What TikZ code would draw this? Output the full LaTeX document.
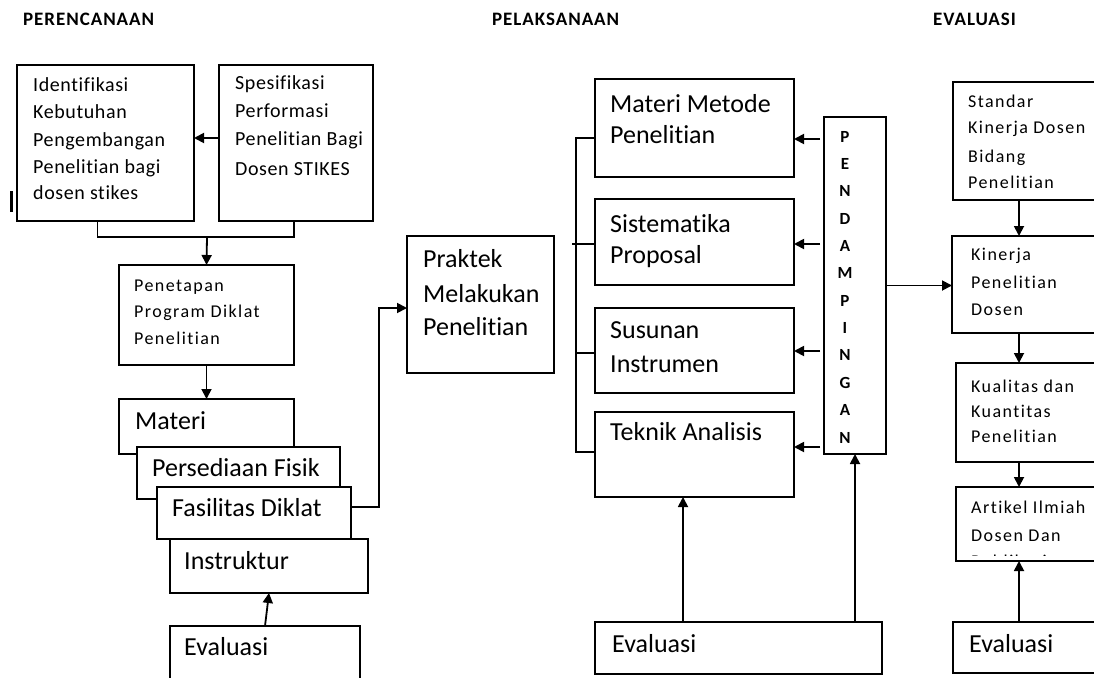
\documentclass[tikz,border=0pt]{standalone}
\usepackage{fontspec}
\usetikzlibrary{arrows.meta}
\newfontfamily\fa[LetterSpace=3,Ligatures=NoCommon]{Carlito}
\newfontfamily\fb[LetterSpace=8,Ligatures=NoCommon]{Carlito}
\newfontfamily\fc[Ligatures=NoCommon]{Carlito}
\newfontfamily\fh[LetterSpace=5,Ligatures=NoCommon]{Carlito}
\newcommand\sza{\fa\fontsize{20}{24}\selectfont}
\newcommand\szb{\fb\fontsize{18}{22}\selectfont}
\newcommand\szc{\fc\fontsize{26}{30}\selectfont}
\newcommand\szh{\fh\bfseries\fontsize{19}{22}\selectfont}
\newcommand\szp{\fc\bfseries\fontsize{17}{20}\selectfont}
\begin{document}
\begin{tikzpicture}[x=1pt,y=-1pt,
  box/.style={draw, line width=1.8pt, fill=white, inner sep=0pt, outer sep=0pt, anchor=north west},
  ln/.style={line width=1.8pt},
  arr/.style={line width=1.8pt, -{Triangle[length=10pt,width=10pt]}},
  ta/.style={anchor=base west, inner sep=0pt, font=\sza},
  tb/.style={anchor=base west, inner sep=0pt, font=\szb},
  tc/.style={anchor=base west, inner sep=0pt, font=\szc},
  th/.style={anchor=base west, inner sep=0pt, font=\szh},
  tp/.style={anchor=base, inner sep=0pt, font=\szp}]
\useasboundingbox (0,0) rectangle (1094,677);
\clip (0,0) rectangle (1094,677);
% headers
\node[th] (h1) at (23,26) {PERENCANAAN};
\node[th] (h2) at (492,26) {PELAKSANAAN};
\node[th] (h3) at (933,26) {EVALUASI};
% stray mark
\fill (9.5,191) rectangle (13,212);
% PERENCANAAN column
\node[box, minimum width=177pt, minimum height=156pt] (b1) at (17,65) {};
\node[box, minimum width=154pt, minimum height=156pt] (b2) at (219,65) {};
\node[ta] (b1a) at (33,91) {Identifikasi};
\node[ta] (b1b) at (33,118) {Kebutuhan};
\node[ta] (b1c) at (33,146) {Pengembangan};
\node[ta] (b1d) at (33,173) {Penelitian bagi};
\node[ta] (b1e) at (33,199) {dosen stikes};
\node[ta] (b2a) at (235,89) {Spesifikasi};
\node[ta] (b2b) at (235,117) {Performasi};
\node[ta] (b2c) at (235,145) {Penelitian Bagi};
\node[ta] (b2d) at (235,175) {Dosen STIKES};
\node[box, minimum width=175pt, minimum height=100pt] (pen) at (119,265) {};
\node[tb] (pena) at (134,291) {Penetapan};
\node[tb] (penb) at (134,317) {Program Diklat};
\node[tb] (penc) at (134,344) {Penelitian};
\node[box, minimum width=175pt, minimum height=55pt] (mat) at (119,399) {};
\node[tc] (matt) at (135,429) {Materi};
\node[box, minimum width=203pt, minimum height=52pt] (per) at (137,447) {};
\node[tc] (pert) at (152,476) {Persediaan Fisik};
\node[box, minimum width=194pt, minimum height=52pt] (fas) at (157,487) {};
\node[tc] (fast) at (172,516) {Fasilitas Diklat};
\node[box, minimum width=198pt, minimum height=54pt] (ins) at (170,539) {};
\node[tc] (inst) at (184,569) {Instruktur};
\node[box, minimum width=190pt, minimum height=80pt] (ev1) at (170,626) {};
\node[tc] (ev1t) at (184,655) {Evaluasi};
% connectors left
\coordinate (j1) at (207,237);
\draw[arr] ([yshift=5pt]b2.west) -- ([yshift=5pt]b1.east);
\draw[ln] ([xshift=-8pt]b1.south) |- (j1) -| ([xshift=-2pt]b2.south);
\draw[arr] (j1) -- (pen.north);
\draw[arr] (pen.south) -- (mat.north);
\draw[arr] (ev1.north) -- (ins.south);
% PELAKSANAAN
\node[box, minimum width=147pt, minimum height=137pt] (prak) at (407,236) {};
\node[tc] (praka) at (423,267) {Praktek};
\node[tc] (prakb) at (423,302) {Melakukan};
\node[tc] (prakc) at (423,335) {Penelitian};
\coordinate (k1) at (379,308);
\draw[arr] ([yshift=6pt]fas.east) -| (k1) -- (k1 -| prak.west);
\node[box, minimum width=199pt, minimum height=98pt] (mm) at (595,79) {};
\node[tc] (mma) at (610,112) {Materi Metode};
\node[tc] (mmb) at (610,143) {Penelitian};
\node[box, minimum width=199pt, minimum height=86pt] (sis) at (595,199) {};
\node[tc] (sisa) at (610,232) {Sistematika};
\node[tc] (sisb) at (610,263) {Proposal};
\node[box, minimum width=199pt, minimum height=85pt] (sus) at (595,308) {};
\node[tc] (susa) at (610,338) {Susunan};
\node[tc] (susb) at (610,372) {Instrumen};
\node[box, minimum width=199pt, minimum height=85pt] (tek) at (595,412) {};
\node[tc] (tekt) at (610,440) {Teknik Analisis};
\node[box, minimum width=62pt, minimum height=337pt] (pend) at (824,117) {};
\node[tp] (p1) at (845,142) {P};
\node[tp] (p2) at (845,169.4) {E};
\node[tp] (p3) at (845,196.7) {N};
\node[tp] (p4) at (845,224.1) {D};
\node[tp] (p5) at (845,251.4) {A};
\node[tp] (p6) at (845,278.8) {M};
\node[tp] (p7) at (845,306.2) {P};
\node[tp] (p8) at (845,333.5) {I};
\node[tp] (p9) at (845,360.9) {N};
\node[tp] (p10) at (845,388.2) {G};
\node[tp] (p11) at (845,415.6) {A};
\node[tp] (p12) at (845,443) {N};
\node[box, minimum width=287pt, minimum height=52pt] (ev2) at (595,622) {};
\node[tc] (ev2t) at (612,652) {Evaluasi};
% bracket
\coordinate (br1) at (576,138);
\coordinate (br3) at (576,353);
\coordinate (br4) at (576,452);
\coordinate (st) at (572,244);
\draw[ln] (br1 -| mm.west) -- (br1) -- (br4) -- (br4 -| tek.west);
\draw[ln] (st) -- (st -| sis.west);
\draw[ln] (br3) -- (br3 -| sus.west);
% pendampingan arrows
\coordinate (r1) at (0,139);
\coordinate (r2) at (0,244);
\coordinate (r3) at (0,351);
\coordinate (r4) at (0,447);
\draw[arr] ([xshift=-4pt]pend.west |- r1) -- (mm.east |- r1);
\draw[arr] ([xshift=-4pt]pend.west |- r2) -- (sis.east |- r2);
\draw[arr] ([xshift=-4pt]pend.west |- r3) -- (sus.east |- r3);
\draw[arr] ([xshift=-4pt]pend.west |- r4) -- (tek.east |- r4);
\coordinate (a1) at (683,0);
\draw[arr] (ev2.north -| a1) -- (tek.south -| a1);
\draw[arr] (ev2.north -| pend.south) -- (pend.south);
% EVALUASI column
\node[box, minimum width=150pt, minimum height=118pt] (std) at (953,82) {};
\node[tb] (stda) at (968,107) {Standar};
\node[tb] (stdb) at (968,133) {Kinerja Dosen};
\node[tb] (stdc) at (968,162) {Bidang};
\node[tb] (stdd) at (968,188) {Penelitian};
\node[box, minimum width=150pt, minimum height=97pt] (kin) at (952,236) {};
\node[tb] (kina) at (971,260) {Kinerja};
\node[tb] (kinb) at (971,288) {Penelitian};
\node[tb] (kinc) at (971,315) {Dosen};
\node[box, minimum width=150pt, minimum height=99pt] (kual) at (956,363) {};
\node[tb] (kuala) at (971,392) {Kualitas dan};
\node[tb] (kualb) at (971,417) {Kuantitas};
\node[tb] (kualc) at (971,442) {Penelitian};
\node[box, minimum width=150pt, minimum height=74pt] (art) at (956,487) {};
\node[tb] (arta) at (971,513) {Artikel Ilmiah};
\node[tb] (artb) at (971,541) {Dosen Dan};
\begin{scope}
\clip (956,487) rectangle (1100,555);
\node[tb] (artc) at (971,567) {Publikasi};
\end{scope}
\node[box, minimum width=150pt, minimum height=51pt] (ev3) at (953,622) {};
\node[tc] (ev3t) at (969,652) {Evaluasi};
\coordinate (rc) at (1019,0);
\draw[arr] (pend.east) -- (pend.east -| kin.west);
\draw[arr] (std.south -| rc) -- (kin.north -| rc);
\draw[arr] (kin.south -| rc) -- (kual.north -| rc);
\draw[arr] (kual.south -| rc) -- (art.north -| rc);
\draw[arr] (ev3.north -| rc) -- (art.south -| rc);
\end{tikzpicture}
\end{document}
